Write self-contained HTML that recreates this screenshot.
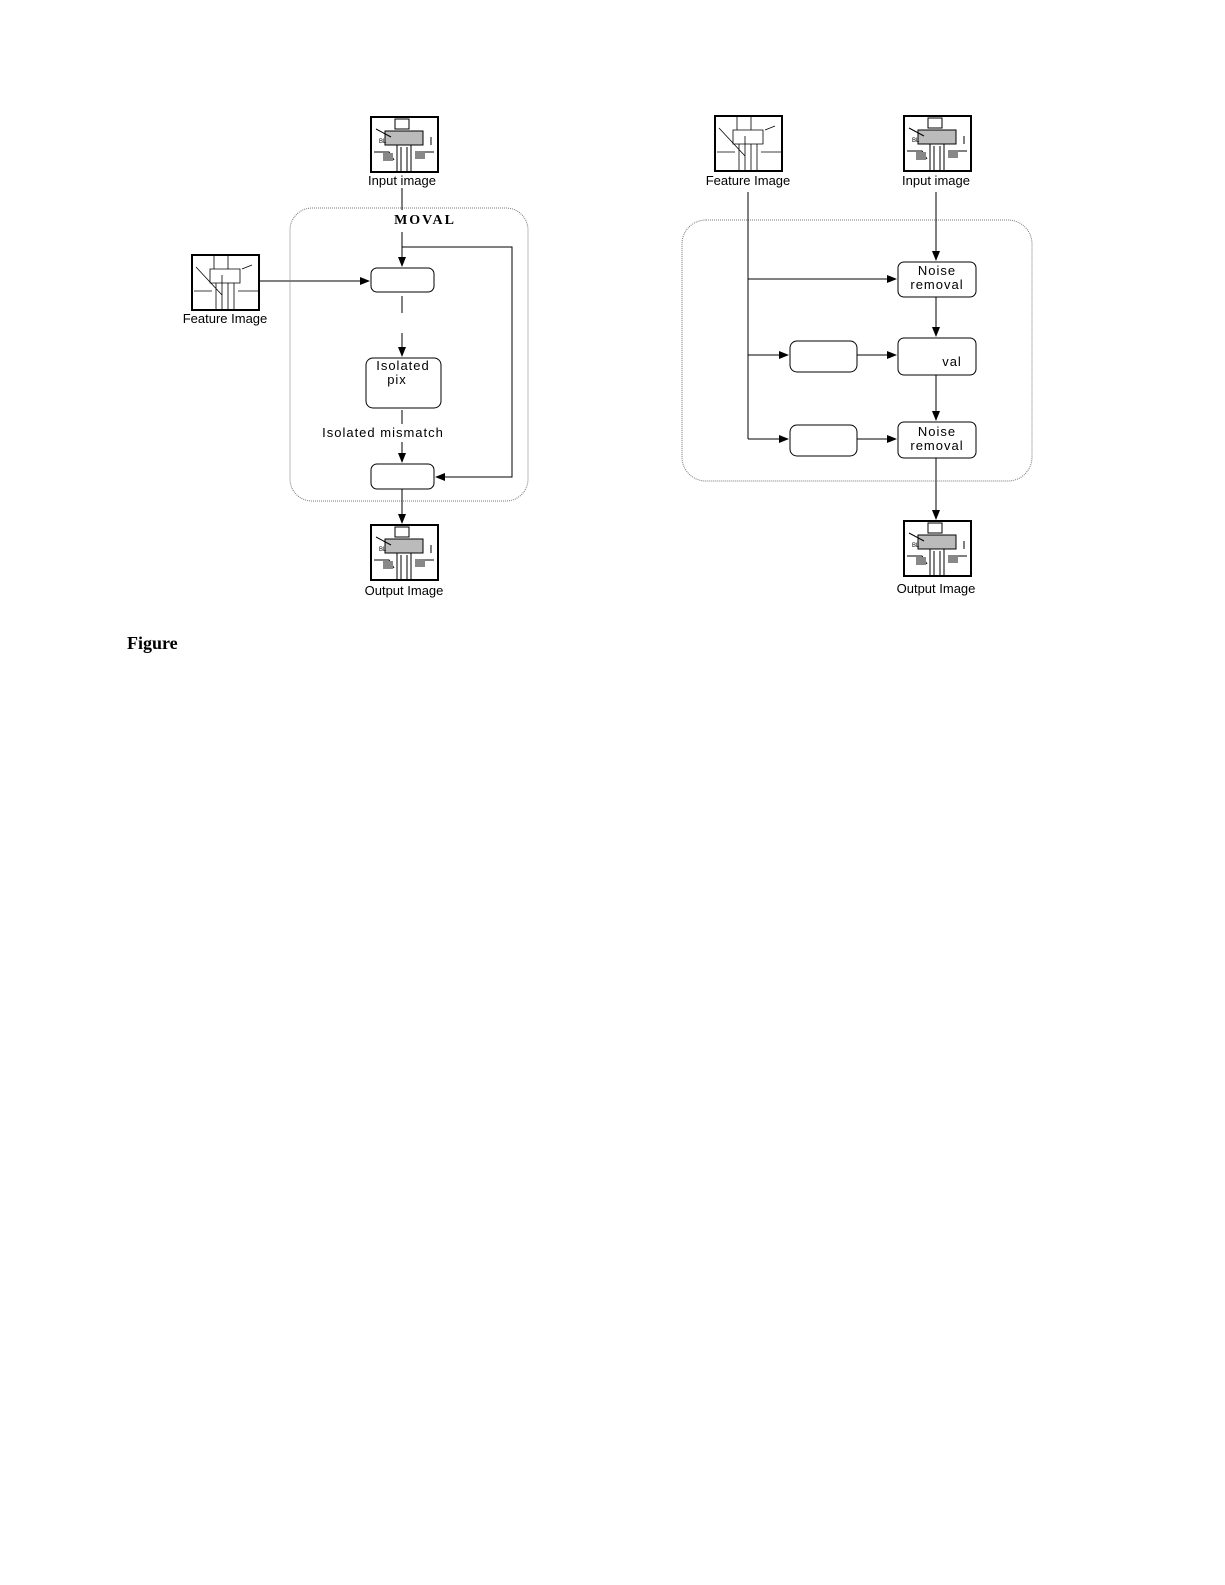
<!DOCTYPE html>
<html><head><style>
html,body{margin:0;padding:0;background:#fff;overflow:hidden;width:1225px;height:1585px;}
svg{display:block;}
.s{font-family:"Liberation Sans",sans-serif;font-size:13px;fill:#000;}
.n{font-family:"Liberation Sans",sans-serif;font-size:13px;letter-spacing:1px;fill:#000;}
</style></head><body>
<svg width="1225" height="1585" viewBox="0 0 1225 1585" xmlns="http://www.w3.org/2000/svg">
<defs>
<marker id="a" markerWidth="10" markerHeight="8" refX="9" refY="4" orient="auto" markerUnits="userSpaceOnUse">
<path d="M0,0 L10,4 L0,8 Z" fill="#000"/></marker>
<g id="img">
<rect x="0" y="0" width="67" height="55" fill="#fff" stroke="#000" stroke-width="2"/>
<rect x="24" y="2" width="14" height="10" fill="none" stroke="#000"/>
<path d="M14,14 h38 v14 h-38 z" fill="#bbb" stroke="#000"/>
<path d="M26,28 v26 M40,28 v26 M30,30 v24 M36,30 v24" stroke="#000"/>
<path d="M5,12 L20,20 M3,35 h15 l5,8 M48,35 h15 M60,20 v8" stroke="#000" fill="none"/>
<rect x="12" y="36" width="10" height="8" fill="#888"/>
<rect x="44" y="34" width="10" height="8" fill="#888"/>
<text x="8" y="26" font-size="6" font-family="Liberation Sans">BL</text>
</g>
<g id="fimg">
<rect x="0" y="0" width="67" height="55" fill="#fff" stroke="#000" stroke-width="2"/>
<path d="M22,0 v14 M36,0 v14 M18,14 h30 v14 h-30 z M24,28 v27 M30,20 v35 M36,28 v27 M42,28 v27 M4,12 L30,40 M2,36 h18 M46,36 h20 M50,14 l10,-4" stroke="#000" fill="none" stroke-width="0.8"/>
</g>
</defs>

<use href="#img" x="371" y="117"/>
<text class="s" x="402" y="185" text-anchor="middle">Input image</text>
<rect x="290" y="208" width="238" height="293" rx="22" fill="none" stroke="#777" stroke-dasharray="1,1"/>
<line x1="402" y1="188" x2="402" y2="210" stroke="#000"/>
<text x="425" y="224" text-anchor="middle" font-family="Liberation Serif" font-weight="bold" font-size="14" letter-spacing="2">MOVAL</text>
<line x1="402" y1="232" x2="402" y2="266" stroke="#000" marker-end="url(#a)"/>
<polyline points="402,247 512,247 512,477 436,477" fill="none" stroke="#000" marker-end="url(#a)"/>
<use href="#fimg" x="192" y="255"/>
<text class="s" x="225" y="323" text-anchor="middle">Feature Image</text>
<line x1="258" y1="281" x2="369" y2="281" stroke="#000" marker-end="url(#a)"/>
<rect x="371" y="268" width="63" height="24" rx="6" fill="#fff" stroke="#000"/>
<line x1="402" y1="296" x2="402" y2="313" stroke="#000"/>
<line x1="402" y1="333" x2="402" y2="356" stroke="#000" marker-end="url(#a)"/>
<rect x="366" y="358" width="75" height="50" rx="7" fill="#fff" stroke="#000"/>
<text class="n" x="403" y="370" text-anchor="middle">Isolated</text>
<text class="n" x="397" y="384" text-anchor="middle">pix</text>
<line x1="402" y1="410" x2="402" y2="424" stroke="#000"/>
<text class="n" x="383" y="437" text-anchor="middle" letter-spacing="0.8">Isolated mismatch</text>
<line x1="402" y1="442" x2="402" y2="462" stroke="#000" marker-end="url(#a)"/>
<rect x="371" y="464" width="63" height="25" rx="6" fill="#fff" stroke="#000"/>
<line x1="402" y1="489" x2="402" y2="523" stroke="#000" marker-end="url(#a)"/>
<use href="#img" x="371" y="525"/>
<text class="s" x="404" y="595" text-anchor="middle">Output Image</text>

<use href="#fimg" x="715" y="116"/>
<text class="s" x="748" y="185" text-anchor="middle">Feature Image</text>
<use href="#img" x="904" y="116"/>
<text class="s" x="936" y="185" text-anchor="middle">Input image</text>
<rect x="682" y="220" width="350" height="261" rx="24" fill="none" stroke="#777" stroke-dasharray="1,1"/>
<line x1="748" y1="192" x2="748" y2="439" stroke="#000"/>
<line x1="748" y1="279" x2="896" y2="279" stroke="#000" marker-end="url(#a)"/>
<line x1="748" y1="355" x2="788" y2="355" stroke="#000" marker-end="url(#a)"/>
<line x1="748" y1="439" x2="788" y2="439" stroke="#000" marker-end="url(#a)"/>
<line x1="936" y1="192" x2="936" y2="260" stroke="#000" marker-end="url(#a)"/>
<rect x="898" y="262" width="78" height="35" rx="6" fill="#fff" stroke="#000"/>
<text class="n" x="937" y="275" text-anchor="middle">Noise</text>
<text class="n" x="937" y="289" text-anchor="middle">removal</text>
<line x1="936" y1="297" x2="936" y2="336" stroke="#000" marker-end="url(#a)"/>
<rect x="898" y="338" width="78" height="37" rx="6" fill="#fff" stroke="#000"/>
<text class="n" x="952" y="366" text-anchor="middle">val</text>
<rect x="790" y="341" width="67" height="31" rx="7" fill="#fff" stroke="#000"/>
<line x1="857" y1="355" x2="896" y2="355" stroke="#000" marker-end="url(#a)"/>
<line x1="936" y1="375" x2="936" y2="420" stroke="#000" marker-end="url(#a)"/>
<rect x="898" y="422" width="78" height="36" rx="6" fill="#fff" stroke="#000"/>
<text class="n" x="937" y="436" text-anchor="middle">Noise</text>
<text class="n" x="937" y="450" text-anchor="middle">removal</text>
<rect x="790" y="425" width="67" height="31" rx="7" fill="#fff" stroke="#000"/>
<line x1="857" y1="439" x2="896" y2="439" stroke="#000" marker-end="url(#a)"/>
<line x1="936" y1="458" x2="936" y2="519" stroke="#000" marker-end="url(#a)"/>
<use href="#img" x="904" y="521"/>
<text class="s" x="936" y="593" text-anchor="middle">Output Image</text>

<text x="127" y="649" font-family="Liberation Serif" font-weight="bold" font-size="18">Figure</text>
</svg>
</body></html>
